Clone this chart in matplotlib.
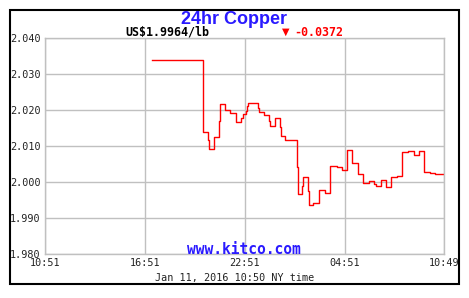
import matplotlib.pyplot as plt
from matplotlib.patches import Rectangle

# 24hr copper price, NY time (step data)
times = ['17:16', '20:21', '20:39', '20:43', '21:00', '21:17', '21:22', '21:40',
         '21:59', '22:20', '22:38', '22:43', '22:57', '22:59', '23:04', '23:39',
         '23:44', '00:02', '00:19', '00:23', '00:39', '00:58', '01:03', '01:16',
         '01:58', '02:02', '02:17', '02:21', '02:39', '02:42', '02:58', '03:17',
         '03:20', '03:39', '03:59', '04:22', '04:40', '04:59', '05:17', '05:39',
         '05:58', '06:17', '06:36', '06:44', '07:01', '07:20', '07:39', '07:58',
         '08:19', '08:39', '09:00', '09:18', '09:38', '09:57', '10:17', '10:49']
prices = [2.0338, 2.0138, 2.0117, 2.0091, 2.0124, 2.0170, 2.0217, 2.0199,
          2.0193, 2.0167, 2.0179, 2.0189, 2.0197, 2.0210, 2.0219, 2.0206,
          2.0194, 2.0185, 2.0169, 2.0156, 2.0177, 2.0154, 2.0129, 2.0118,
          2.0043, 1.9967, 1.9990, 2.0013, 1.9975, 1.9936, 1.9942, 1.9959,
          1.9977, 1.9970, 2.0044, 2.0041, 2.0033, 2.0088, 2.0053, 2.0022,
          1.9998, 2.0002, 1.9995, 1.9989, 2.0006, 1.9986, 2.0013, 2.0016,
          2.0082, 2.0086, 2.0076, 2.0086, 2.0028, 2.0025, 2.0022, 2.0022]

x_labels = ['10:51', '16:51', '22:51', '04:51', '10:49']
y_ticks = [1.98, 1.99, 2.00, 2.01, 2.02, 2.03, 2.04]

start = 10 * 60 + 51


def hours_since_start(t):
    h, m = t.split(':')
    return ((int(h) * 60 + int(m) - start) % 1440) / 60


x = [hours_since_start(t) for t in times]
x_pos = [hours_since_start(t) for t in x_labels]

fig = plt.figure(figsize=(4.69, 2.98), dpi=100)
fig.patch.set_facecolor('white')

# black frame around the whole chart
fig.patches.append(Rectangle((10 / 469, 14 / 298), 449 / 469, 274 / 298,
                             transform=fig.transFigure, fill=False,
                             edgecolor='black', linewidth=1.5))

ax = fig.add_axes([45 / 469, 44 / 298, 399 / 469, 216 / 298])
ax.step(x, prices, where='post', color='red', linewidth=1.0)

ax.set_xlim(0, x_pos[-1])
ax.set_ylim(1.98, 2.04)
ax.set_xticks(x_pos)
ax.set_xticklabels(x_labels)
ax.set_yticks(y_ticks)
ax.set_yticklabels(['%.3f' % v for v in y_ticks])
ax.grid(True, color='#c0c0c0', linewidth=1.0)
ax.set_axisbelow(True)
for s in ax.spines.values():
    s.set_color('#c0c0c0')
    s.set_linewidth(1.0)
ax.tick_params(length=0, labelsize=7.3, colors='#222222', pad=3)
for lab in ax.get_xticklabels() + ax.get_yticklabels():
    lab.set_family('DejaVu Sans Mono')

fig.text(234 / 469, 1 - 19 / 298, '24hr Copper', ha='center', va='center',
         fontsize=13, fontweight='bold', color='#2a1aff', family='Liberation Sans')
fig.text(167 / 469, 1 - 32 / 298, 'US$1.9964/lb', ha='center', va='center',
         fontsize=8.4, fontweight='bold', color='black', family='DejaVu Sans Mono')
fig.text(286 / 469, 1 - 31.5 / 298, '\u25bc', ha='center', va='center',
         fontsize=7, color='red', family='DejaVu Sans')
fig.text(319 / 469, 1 - 32 / 298, '-0.0372', ha='center', va='center',
         fontsize=8.4, fontweight='bold', color='red', family='DejaVu Sans Mono')
fig.text(244 / 469, 1 - 249 / 298, 'www.kitco.com', ha='center', va='center',
         fontsize=10.5, fontweight='bold', color='#2a1aff', family='DejaVu Sans Mono')
fig.text(235 / 469, 1 - 278 / 298, 'Jan 11, 2016 10:50 NY time', ha='center',
         va='center', fontsize=7.3, color='#222222', family='DejaVu Sans Mono')

fig.savefig('out.png', dpi=100)
